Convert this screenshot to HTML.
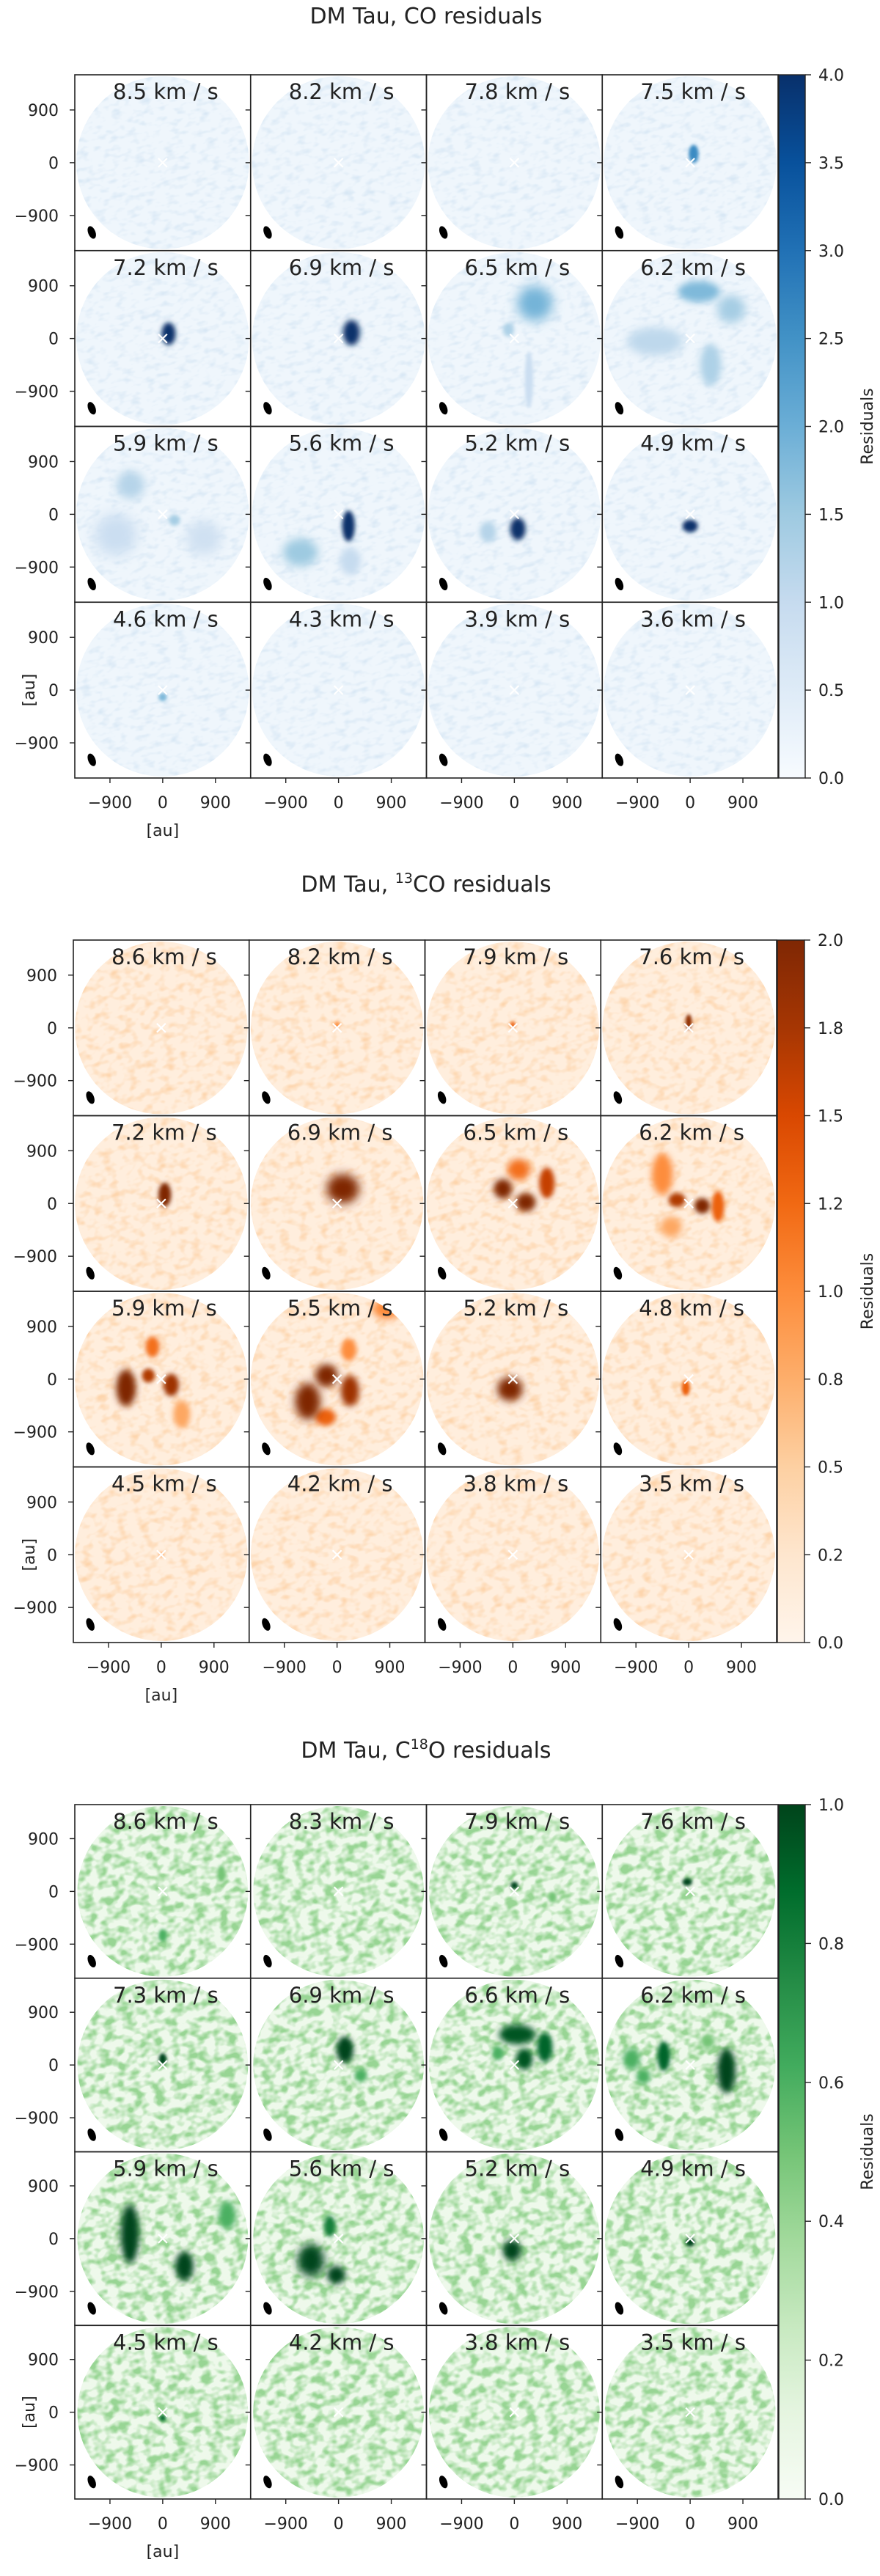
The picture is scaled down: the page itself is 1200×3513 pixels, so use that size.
<!DOCTYPE html>
<html><head><meta charset="utf-8"><title>DM Tau residuals</title>
<style>
html,body{margin:0;padding:0;background:#fff;}
svg{display:block;font-family:"DejaVu Sans","Liberation Sans",sans-serif;}
</style></head>
<body>
<svg id="fig" xmlns="http://www.w3.org/2000/svg" width="1200" height="3513" viewBox="0 0 1200 3513">
<rect width="1200" height="3513" fill="#fff"/>
<defs id="defs"></defs>
</svg>
<script>
// ---- data ----
const coVels = ['8.5','8.2','7.8','7.5','7.2','6.9','6.5','6.2','5.9','5.6','5.2','4.9','4.6','4.3','3.9','3.6'];
const co13Vels = ['8.6','8.2','7.9','7.6','7.2','6.9','6.5','6.2','5.9','5.5','5.2','4.8','4.5','4.2','3.8','3.5'];
const c18Vels = ['8.6','8.3','7.9','7.6','7.3','6.9','6.6','6.2','5.9','5.6','5.2','4.9','4.5','4.2','3.8','3.5'];
const coTickValues = [0,0.5,1.0,1.5,2.0,2.5,3.0,3.5,4.0];
const coTickLabels = ['0.0','0.5','1.0','1.5','2.0','2.5','3.0','3.5','4.0'];
const co13TickValues = [0,0.25,0.5,0.75,1.0,1.25,1.5,1.75,2.0];
const co13TickLabels = ['0.0','0.2','0.5','0.8','1.0','1.2','1.5','1.8','2.0'];
const c18TickValues = [0,0.2,0.4,0.6,0.8,1.0];
const c18TickLabels = ['0.0','0.2','0.4','0.6','0.8','1.0'];
const axisTickValues = [-900,0,900];
const axisTickLabels = ['\u2212900','0','900'];
// blobs: [panelIndex, x_au, y_au, rx_au, ry_au, value]
const coBlobs = [
 [3,60,150,70,130,2.6],
 [4,100,80,100,160,4.0],
 [5,220,100,120,180,4.0],
 [6,350,600,250,250,1.9],[6,-100,150,80,100,1.3],[6,250,-700,60,400,0.9],
 [7,150,800,300,150,1.8],[7,700,500,200,200,1.4],[7,-600,-50,400,200,1.1],[7,350,-450,150,300,1.3],
 [8,-550,500,200,200,1.2],[8,-800,-350,300,300,0.9],[8,200,-100,80,80,1.4],[8,700,-400,250,250,0.8],
 [9,170,-200,90,220,4.0],[9,-650,-650,250,200,1.5],[9,200,-800,150,200,1.0],
 [10,60,-250,110,160,4.0],[10,-450,-300,120,150,1.2],
 [11,0,-200,110,90,4.0],
 [12,0,-120,60,60,1.8]
];
const co13Blobs = [
 [1,0,50,40,50,1.0],[2,0,50,40,50,1.3],[3,0,100,45,110,1.9],
 [4,60,150,90,170,2.0],
 [5,100,250,230,210,2.0],
 [6,-170,250,130,140,2.0],[6,220,20,140,130,2.0],[6,580,350,110,220,1.6],[6,100,580,160,150,1.2],
 [7,-200,60,120,100,1.7],[7,230,-40,110,110,2.0],[7,-450,500,150,300,1.0],[7,500,-50,90,220,1.3],[7,-300,-400,150,150,0.8],
 [8,-600,-150,140,260,2.0],[8,-220,60,90,100,1.7],[8,170,-100,110,160,1.8],[8,-150,550,100,150,1.2],[8,350,-600,120,200,0.8],
 [9,-500,-380,180,260,2.0],[9,-180,60,160,160,2.0],[9,220,-200,130,220,1.8],[9,850,1200,200,150,1.0],[9,200,500,110,160,1.0],[9,-200,-650,150,120,1.3],
 [10,-50,-170,180,170,2.0],
 [11,-50,-150,60,110,1.3],
 [12,0,0,40,40,0.8]
];
const c18Blobs = [
 [0,0,-750,60,90,0.6],[0,1000,300,60,120,0.5],
 [2,0,100,55,55,1.0],[2,650,-100,60,80,0.5],
 [3,-50,160,70,55,1.0],
 [4,0,100,55,85,1.0],
 [5,110,260,120,190,1.0],[5,380,-180,90,90,0.6],
 [6,50,520,260,140,0.95],[6,520,300,110,210,0.9],[6,170,100,120,150,0.95],[6,-280,200,80,100,0.6],
 [7,-450,150,90,210,0.9],[7,620,-100,130,320,1.0],[7,-1000,100,120,150,0.6],[7,-800,-200,100,100,0.6],[7,300,400,100,100,0.5],
 [8,-560,80,130,420,1.0],[8,370,-470,130,210,1.0],[8,1100,400,120,200,0.6],
 [9,-470,-370,190,230,1.0],[9,-40,-620,130,130,1.0],[9,-150,210,80,150,0.8],
 [10,-40,-200,130,150,1.0],
 [11,0,-60,65,65,1.0],
 [12,0,-100,45,45,0.9]
];
// ---- colormaps ----
const blues = ['#f7fbff','#deebf7','#c6dbef','#9ecae1','#6baed6','#4292c6','#2171b5','#08519c','#08306b'];
const oranges = ['#fff5eb','#fee6ce','#fdd0a2','#fdae6b','#fd8d3c','#f16913','#d94801','#a63603','#7f2704'];
const greens = ['#f7fcf5','#e5f5e0','#c7e9c0','#a1d99b','#74c476','#41ab5d','#238b45','#006d2c','#00441b'];

const sections = [
 {key:'co', title:['DM Tau, CO residuals'], titleY:32, top:102, bottom:1061, left:102, right:1061, cbL:1062, cbR:1098,
  vels:coVels, tv:coTickValues, tl:coTickLabels, max:4, cmap:blues, blobs:coBlobs, base:0.04, noise:0.15, freq:'0.07 0.13', nA:2.6, nB:-1.25},
 {key:'co13', title:['DM Tau, ','13','CO residuals'], titleY:1216, top:1282, bottom:2240, left:100, right:1059, cbL:1060, cbR:1097,
  vels:co13Vels, tv:co13TickValues, tl:co13TickLabels, max:2, cmap:oranges, blobs:co13Blobs, base:0.06, noise:0.22, freq:'0.07 0.1', nA:2.6, nB:-1.2},
 {key:'c18', title:['DM Tau, C','18','O residuals'], titleY:2397, top:2461, bottom:3408, left:102, right:1061, cbL:1062, cbR:1098,
  vels:c18Vels, tv:c18TickValues, tl:c18TickLabels, max:1, cmap:greens, blobs:c18Blobs, base:0.06, noise:0.4, freq:'0.07 0.09', nA:3.2, nB:-1.3}
];

function hex2rgb(h){return [parseInt(h.slice(1,3),16),parseInt(h.slice(3,5),16),parseInt(h.slice(5,7),16)];}
function cmapRGB(cm,t){
  t=Math.max(0,Math.min(1,t));
  const p=t*(cm.length-1), i=Math.min(cm.length-2,Math.floor(p)), f=p-i;
  const a=hex2rgb(cm[i]), b=hex2rgb(cm[i+1]);
  return a.map((v,k)=>Math.round(v+(b[k]-v)*f));
}
function cmapColor(cm,t){return 'rgb('+cmapRGB(cm,t).join(',')+')';}
const NS='http://www.w3.org/2000/svg';
const svg=document.getElementById('fig');
const defs=document.getElementById('defs');
function el(tag,attrs,parent){
  const e=document.createElementNS(NS,tag);
  for(const k in attrs) e.setAttribute(k,attrs[k]);
  (parent||svg).appendChild(e);
  return e;
}

sections.forEach((S,si)=>{
  const g=el('g',{});
  
  
  const t=el('text',{x:581, y:S.titleY, 'font-size':30, 'text-anchor':'middle', fill:'#222'},g);
  
  
  if(S.title.length===1){t.textContent=S.title[0];}
  else{
    el('tspan',{},t).textContent=S.title[0];
    const sup=el('tspan',{'font-size':19,dy:-12},t); sup.textContent=S.title[1];
    const rest=el('tspan',{dy:12},t); rest.textContent=S.title[2];
  }
  const pw=(S.right-S.left)/4, ph=(S.bottom-S.top)/4;
  const pxPerAu=0.08*(pw/240);
  const R=Math.min(pw,ph)/2-2;
  const nc=cmapRGB(S.cmap,S.noise);
  for(let p=0;p<16;p++){
    const row=Math.floor(p/4), col=p%4;
    const x0=S.left+col*pw, y0=S.top+row*ph;
    const cx=x0+pw/2, cy=y0+ph/2;
    const sx=au=>cx+au*pxPerAu, sy=au=>cy-au*pxPerAu;
    const pg=el('g',{},g);
    
    
    const cid='clip-'+si+'-'+p;
    const cp=el('clipPath',{id:cid},defs);
    el('circle',{cx:cx,cy:cy,r:R},cp);
    const inner=el('g',{'clip-path':'url(#'+cid+')'},pg);
    const disk=el('circle',{cx:cx,cy:cy,r:R,fill:cmapColor(S.cmap,S.base)},inner);
    
    
    const fid='noise-'+si+'-'+p;
    const f=el('filter',{id:fid,x:0,y:0,width:1,height:1,'color-interpolation-filters':'sRGB'},defs);
    el('feTurbulence',{type:'fractalNoise',baseFrequency:S.freq,numOctaves:2,seed:si*31+p*7+3},f);
    el('feColorMatrix',{type:'matrix',values:'0 0 0 0 '+(nc[0]/255)+' 0 0 0 0 '+(nc[1]/255)+' 0 0 0 0 '+(nc[2]/255)+' '+S.nA+' 0 0 0 '+S.nB},f);
    el('rect',{x:x0,y:y0,width:pw,height:ph,filter:'url(#'+fid+')',transform:'rotate(-15 '+cx+' '+cy+')'},inner);
    S.blobs.filter(b=>b[0]===p).sort((a,b)=>a[5]-b[5]).forEach(b=>{
      const bid='blur-'+si+'-'+p+'-'+Math.round(Math.min(b[3],b[4]));
      if(!document.getElementById(bid)){
        const bf=el('filter',{id:bid,x:'-100%',y:'-100%',width:'300%',height:'300%'},defs);
        el('feGaussianBlur',{stdDeviation:Math.max(2,Math.min(b[3],b[4])*pxPerAu*0.4)},bf);
      }
      const e=el('ellipse',{cx:sx(b[1]),cy:sy(b[2]),rx:b[3]*pxPerAu*1.2,ry:b[4]*pxPerAu*1.2,fill:cmapColor(S.cmap,b[5]/S.max),filter:'url(#'+bid+')'},inner);
      
      
    });
    const m=el('g',{stroke:'#fff','stroke-width':2.2},pg);
    
    
    el('line',{x1:cx-6,y1:cy-6,x2:cx+6,y2:cy+6},m);
    el('line',{x1:cx-6,y1:cy+6,x2:cx+6,y2:cy-6},m);
    const beam=el('ellipse',{cx:sx(-1210),cy:sy(-1190),rx:5,ry:9,fill:'#000',transform:'rotate(-22 '+sx(-1210)+' '+sy(-1190)+')'},pg);
    
    
    const lb=el('text',{x:cx+4,y:y0+33,'font-size':29,'text-anchor':'middle',fill:'#222'},pg);
    
    
    lb.textContent=S.vels[p]+' km / s';
    el('rect',{x:x0,y:y0,width:pw,height:ph,fill:'none',stroke:'#222','stroke-width':1.6},pg);
    axisTickValues.forEach((v,i)=>{
      el('line',{x1:x0-7,y1:sy(v),x2:x0,y2:sy(v),stroke:'#222','stroke-width':1.4},pg);
      if(col===0){
        const tl=el('text',{x:x0-22,y:sy(v)+8,'font-size':22,'text-anchor':'end',fill:'#222'},pg);
        
        
        tl.textContent=axisTickLabels[i];
      }
      if(row===3){
        el('line',{x1:sx(v),y1:y0+ph,x2:sx(v),y2:y0+ph+7,stroke:'#222','stroke-width':1.4},pg);
        const xl=el('text',{x:sx(v),y:y0+ph+41,'font-size':22,'text-anchor':'middle',fill:'#222'},pg);
        
        
        xl.textContent=axisTickLabels[i];
      }
    });
  }
  const xt=el('text',{x:S.left+pw/2,y:S.bottom+79,'font-size':22,'text-anchor':'middle',fill:'#222'},g);
    xt.textContent='[au]';
  const yc=S.top+3.5*ph;
  const yt=el('text',{x:47,y:yc,'font-size':22,'text-anchor':'middle',fill:'#222',transform:'rotate(-90 47 '+yc+')'},g);
    yt.textContent='[au]';
  const gid='cbgrad-'+si;
  const lg=el('linearGradient',{id:gid,x1:0,y1:1,x2:0,y2:0},defs);
  S.cmap.forEach((c,i)=>el('stop',{offset:i/(S.cmap.length-1),'stop-color':c},lg));
  const cb=el('rect',{x:S.cbL,y:S.top,width:S.cbR-S.cbL,height:S.bottom-S.top,fill:'url(#'+gid+')',stroke:'#222','stroke-width':1.4},g);
   
  const cy=v=>S.bottom-(v/S.max)*(S.bottom-S.top);
  S.tv.forEach((v,i)=>{
    el('line',{x1:S.cbR,y1:cy(v),x2:S.cbR+8,y2:cy(v),stroke:'#222','stroke-width':1.4},g);
    const tl=el('text',{x:S.cbR+18,y:cy(v)+8,'font-size':22,fill:'#222'},g);
     
    tl.textContent=S.tl[i];
  });
  const cmid=(S.top+S.bottom)/2;
  const rl=el('text',{x:1190,y:cmid,'font-size':22,'text-anchor':'middle',fill:'#222',transform:'rotate(-90 1190 '+cmid+')'},g);
   
  rl.textContent='Residuals';
});
</script>
</body></html>
